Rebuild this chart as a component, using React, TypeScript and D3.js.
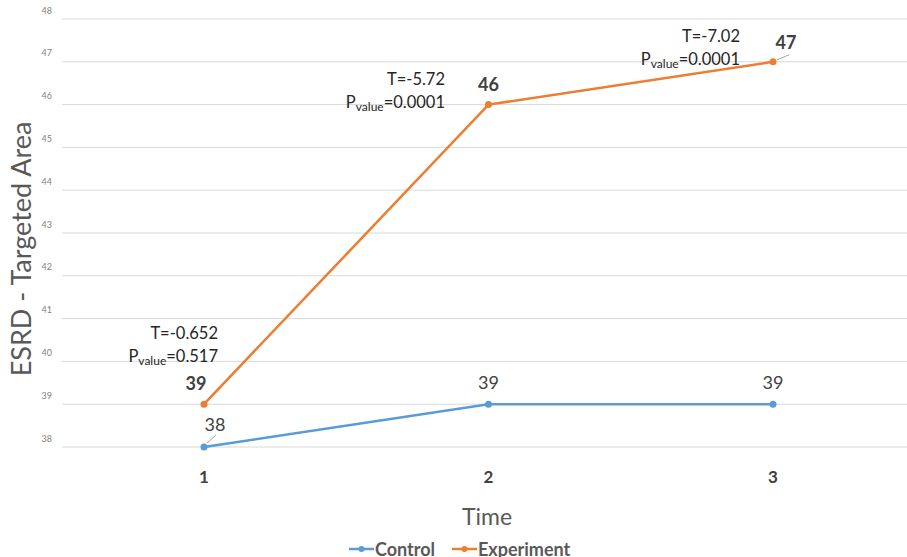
import React from "react";
import * as d3 from "d3";

const categories = ["1", "2", "3"];
const controlValues = [38, 39, 39];
const experimentValues = [39, 46, 47];
const yTicks = [38, 39, 40, 41, 42, 43, 44, 45, 46, 47, 48];
const tValues = ["T=-0.652", "T=-5.72", "T=-7.02"];
const pValues = ["0.517", "0.0001", "0.0001"];

const W = 907;
const H = 557;
const FONT = "Lato, 'Open Sans', sans-serif";

export default function App() {
  const x = d3.scalePoint<string>().domain(categories).range([204, 773]);
  const y = d3.scaleLinear().domain([38, 48]).range([447, 19]);
  const line = d3
    .line<number>()
    .x((_, i) => x(categories[i]) as number)
    .y((d) => y(d));

  const annotX = [218, 445, 740];
  return (
    <svg
      width={W}
      height={H}
      style={{ position: "absolute", left: 0, top: 0, background: "#fff" }}
      fontFamily={FONT}
    >
      {yTicks.map((t) => (
        <g key={t}>
          <line x1={62} x2={W} y1={y(t)} y2={y(t)} stroke="#d9d9d9" strokeWidth={1} />
          <text x={52} y={y(t)} dy="-0.6em" textAnchor="end" fontSize={9} fill="#7f7f7f">
            {t}
          </text>
        </g>
      ))}
      <text
        transform={`translate(31,${y(43) + 16}) rotate(-90)`}
        textAnchor="middle"
        fontSize={27}
        fill="#595959"
      >
        ESRD - Targeted Area
      </text>
      {categories.map((c) => (
        <text key={c} x={x(c)} y={483} textAnchor="middle" fontSize={17} fontWeight="bold" fill="#404040">
          {c}
        </text>
      ))}
      <text x={487} y={525} textAnchor="middle" fontSize={23} fill="#595959">
        Time
      </text>

      {/* leader lines */}
      <line x1={x("1")! + 3} y1={y(38) - 4} x2={x("1")! + 12} y2={y(38) - 12} stroke="#a6a6a6" strokeWidth={1} />
      <line x1={x("3")! + 4} y1={y(47) - 2} x2={x("3")! + 16} y2={y(47) - 7} stroke="#a6a6a6" strokeWidth={1} />

      <path d={line(controlValues) || ""} fill="none" stroke="#5B9BD5" strokeWidth={2.5} />
      <path d={line(experimentValues) || ""} fill="none" stroke="#ED7D31" strokeWidth={2.5} />
      {controlValues.map((v, i) => (
        <circle key={"c" + i} cx={x(categories[i])} cy={y(v)} r={3.5} fill="#5B9BD5" />
      ))}
      {experimentValues.map((v, i) => (
        <circle key={"e" + i} cx={x(categories[i])} cy={y(v)} r={3.5} fill="#ED7D31" />
      ))}

      {/* control labels */}
      {controlValues.map((v, i) => (
        <text
          key={"cl" + i}
          x={(x(categories[i]) as number) + (i === 0 ? 11 : 0)}
          y={y(v) - (i === 0 ? 16 : 15)}
          textAnchor="middle"
          fontSize={18}
          fill="#404040"
        >
          {v}
        </text>
      ))}
      {/* experiment labels */}
      {experimentValues.map((v, i) => (
        <text
          key={"el" + i}
          x={(x(categories[i]) as number) + (i === 0 ? -8 : i === 2 ? 13 : 0)}
          y={y(v) - (i === 2 ? 13 : 14)}
          textAnchor="middle"
          fontSize={18}
          fontWeight="bold"
          fill="#404040"
        >
          {v}
        </text>
      ))}

      {/* annotations */}
      {[339, 85, 42].map((ty, i) => (
        <g key={"a" + i}>
          <text x={annotX[i]} y={ty} textAnchor="end" fontSize={16.5} fill="#262626">
            {tValues[i]}
          </text>
          <text x={annotX[i]} y={ty + 23} textAnchor="end" fontSize={16.5} fill="#262626">
            P<tspan fontSize={12} dy={3}>value</tspan>
            <tspan dy={-3}>={pValues[i]}</tspan>
          </text>
        </g>
      ))}

      {/* legend */}
      <g>
        <line x1={349} x2={374} y1={549} y2={549} stroke="#5B9BD5" strokeWidth={2.5} />
        <circle cx={361.5} cy={549} r={3} fill="#5B9BD5" />
        <text x={375} y={556} fontSize={18} fontWeight="bold" fill="#595959">
          Control
        </text>
        <line x1={452} x2={477} y1={549} y2={549} stroke="#ED7D31" strokeWidth={2.5} />
        <circle cx={464.5} cy={549} r={3} fill="#ED7D31" />
        <text x={478} y={556} fontSize={18} fontWeight="bold" fill="#595959">
          Experiment
        </text>
      </g>
    </svg>
  );
}
